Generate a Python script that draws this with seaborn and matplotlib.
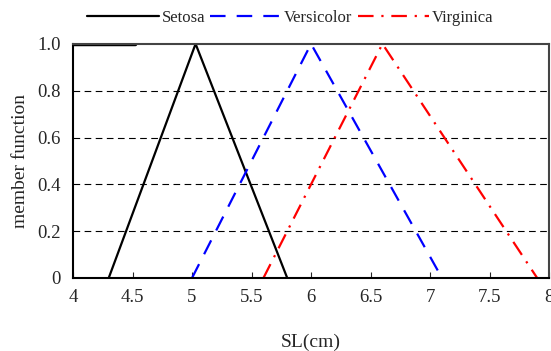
import numpy as np
import pandas as pd
import matplotlib
matplotlib.use("Agg")
import matplotlib.pyplot as plt
import seaborn as sns
from matplotlib.lines import Line2D

species = ["Setosa", "Versicolor", "Virginica"]
setosa_x = [4.3, 5.03, 5.8]
setosa_y = [0.0, 1.0, 0.0]
versicolor_x = [5.0, 6.0, 7.1]
versicolor_y = [0.0, 1.0, 0.0]
virginica_x = [5.6, 6.6, 7.9]
virginica_y = [0.0, 1.0, 0.0]
top_seg_x = [4.0, 4.52]
top_seg_y = [1.0, 1.0]
xticks = [4, 4.5, 5, 5.5, 6, 6.5, 7, 7.5, 8]
xticklabels = ["4", "4.5", "5", "5.5", "6", "6.5", "7", "7.5", "8"]
yticks = [0, 0.2, 0.4, 0.6, 0.8, 1.0]
yticklabels = ["0", "0.2", "0.4", "0.6", "0.8", "1.0"]

sns.set_style("white")
plt.rcParams['font.family'] = ['Liberation Serif', 'DejaVu Serif']

df = pd.DataFrame({
    "x": setosa_x + versicolor_x + virginica_x,
    "y": setosa_y + versicolor_y + virginica_y,
    "species": ["Setosa"] * 3 + ["Versicolor"] * 3 + ["Virginica"] * 3,
})

fig = plt.figure(figsize=(5.51, 3.51), dpi=100)
ax = fig.add_axes([0.1325, 0.208, 0.864, 0.667])

palette = {"Setosa": "black", "Versicolor": "blue", "Virginica": "red"}
dash_v = (7, 5)
dash_g = (7, 3.5, 1, 3.5)
dashes = {"Setosa": "", "Versicolor": dash_v, "Virginica": dash_g}
sns.lineplot(data=df, x="x", y="y", hue="species", style="species",
             palette=palette, dashes=dashes, linewidth=1.6, ax=ax,
             sort=False, estimator=None, legend=False)

sns.lineplot(x=top_seg_x, y=top_seg_y, color="black", linewidth=2.5, ax=ax, legend=False)

for yv in [0.2, 0.4, 0.6, 0.8]:
    ax.axhline(yv, color="black", linestyle=(0, (6, 4)), linewidth=0.8, zorder=0)

ax.set_xlim(4, 8)
ax.set_ylim(0, 1)
ax.set_xticks(xticks)
ax.set_xticklabels(xticklabels, fontsize=13.5)
ax.set_yticks(yticks)
ax.set_yticklabels(yticklabels, fontsize=13.5)
ax.tick_params(axis="x", direction="in", length=4, width=0.8, pad=8, bottom=True)
ax.tick_params(axis="y", length=0, pad=9)
ax.set_xlabel("SL(cm)", fontsize=14, labelpad=20)
ax.set_ylabel("member function", fontsize=14, labelpad=6)

for side in ["left", "bottom"]:
    ax.spines[side].set_color("black")
    ax.spines[side].set_linewidth(1.5)
for side in ["top", "right"]:
    ax.spines[side].set_color("#444444")
    ax.spines[side].set_linewidth(1.5)

handles = [Line2D([0], [0], color="black", lw=1.6),
           Line2D([0], [0], color="blue", lw=1.6, dashes=dash_v),
           Line2D([0], [0], color="red", lw=1.6, dashes=dash_g)]
fig.legend(handles, species, loc="center", bbox_to_anchor=(0.527, 0.948),
           ncol=3, frameon=False, fontsize=12, handlelength=4.3,
           handletextpad=0.15, columnspacing=0.3)

fig.savefig("out.png", dpi=100)
